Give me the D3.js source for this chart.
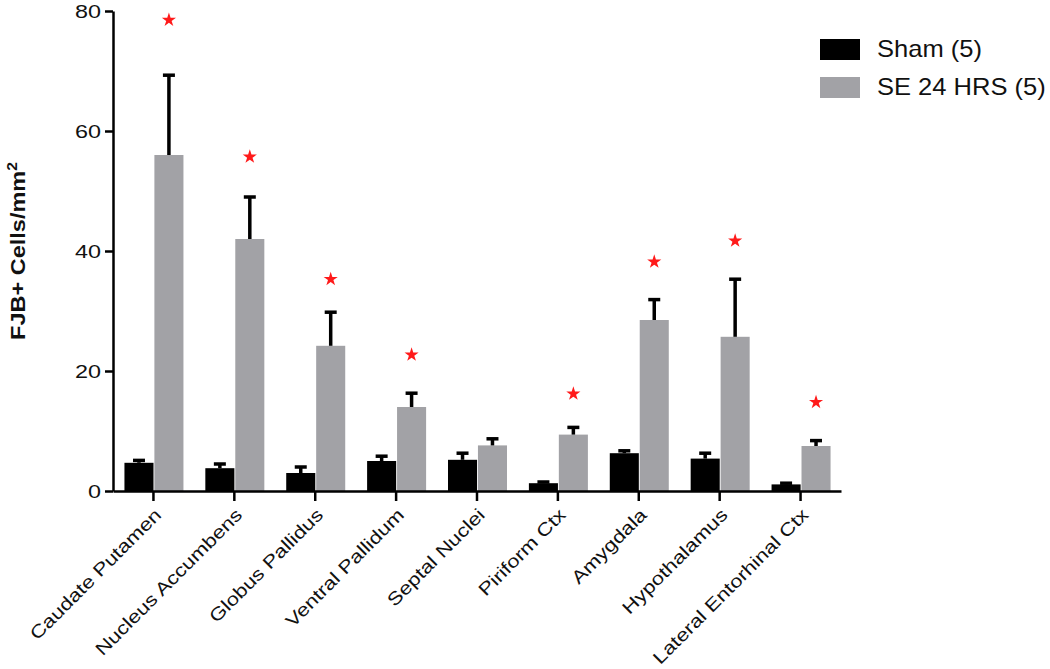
<!DOCTYPE html>
<html>
<head>
<meta charset="utf-8">
<script src="https://cdn.jsdelivr.net/npm/d3@7"></script>
<style>
  html, body { margin: 0; padding: 0; background: #fff; }
  svg { display: block; }
</style>
</head>
<body>
<svg id="chart" width="1050" height="669"></svg>
<script>
const categories = ["Caudate Putamen", "Nucleus Accumbens", "Globus Pallidus", "Ventral Pallidum",
  "Septal Nuclei", "Piriform Ctx", "Amygdala", "Hypothalamus", "Lateral Entorhinal Ctx"];
const seriesNames = ["Sham (5)", "SE 24 HRS (5)"];
const shamValues = [4.7, 3.8, 3.0, 5.0, 5.2, 1.3, 6.3, 5.4, 1.1];
const shamErrors = [0.4, 0.7, 1.0, 0.8, 1.1, 0.2, 0.4, 0.9, 0.2];
const seValues = [56.0, 42.0, 24.2, 14.0, 7.6, 9.4, 28.5, 25.7, 7.5];
const seErrors = [13.3, 7.0, 5.6, 2.3, 1.1, 1.2, 3.4, 9.6, 0.9];
const starValues = [78.5, 55.7, 35.3, 22.7, null, 16.2, 38.2, 41.7, 14.8];
const yTicks = [0, 20, 40, 60, 80];
const yLabel = "FJB+ Cells/mm";
const colors = ["#000000", "#a2a2a6"];

const FONT = "'Liberation Sans', Arial, Helvetica, sans-serif";
const svg = d3.select("#chart");

const y = d3.scaleLinear().domain([0, 80]).range([491, 11]);
const x0 = d3.scaleBand().domain(categories).range([113, 841]).padding(0);
const x1 = d3.scaleBand().domain(seriesNames).range([0, 59]).paddingInner(0.03);

const rows = categories.map((c, i) => ({
  cat: c,
  vals: [
    { s: seriesNames[0], v: shamValues[i], e: shamErrors[i] },
    { s: seriesNames[1], v: seValues[i], e: seErrors[i] }
  ],
  star: starValues[i]
}));

const groupX = c => x0(c) + x0.bandwidth() / 2 - 29;

// Bars
const g = svg.append("g");
const groups = g.selectAll("g.grp").data(rows).join("g")
  .attr("transform", d => `translate(${groupX(d.cat)},0)`);

groups.selectAll("rect").data(d => d.vals).join("rect")
  .attr("x", d => x1(d.s))
  .attr("width", x1.bandwidth())
  .attr("y", d => y(d.v))
  .attr("height", d => y(0) - y(d.v))
  .attr("fill", (d, i) => colors[i]);

// Error bars (upper only)
groups.selectAll("line.err").data(d => d.vals).join("line")
  .attr("class", "err")
  .attr("x1", d => x1(d.s) + x1.bandwidth() / 2)
  .attr("x2", d => x1(d.s) + x1.bandwidth() / 2)
  .attr("y1", d => y(d.v))
  .attr("y2", d => y(d.v + d.e))
  .attr("stroke", "#000").attr("stroke-width", 3.5);

groups.selectAll("line.cap").data(d => d.vals).join("line")
  .attr("class", "cap")
  .attr("x1", d => x1(d.s) + x1.bandwidth() / 2 - 6)
  .attr("x2", d => x1(d.s) + x1.bandwidth() / 2 + 6)
  .attr("y1", d => y(d.v + d.e))
  .attr("y2", d => y(d.v + d.e))
  .attr("stroke", "#000").attr("stroke-width", 3.5);

// Significance stars
groups.filter(d => d.star !== null).append("path")
  .attr("d", d3.symbol().type(d3.symbolStar).size(62))
  .attr("transform", d => `translate(${x1(seriesNames[1]) + x1.bandwidth() / 2},${y(d.star)})`)
  .attr("fill", "#ff1a1a");

// Y axis
const yAxis = svg.append("g")
  .attr("transform", "translate(113,0)")
  .call(d3.axisLeft(y).tickValues(yTicks).tickSize(8).tickSizeOuter(0).tickPadding(5));
yAxis.select(".domain").attr("stroke-width", 2.5).attr("stroke", "#000");
yAxis.selectAll(".tick line").attr("stroke-width", 2.5).attr("stroke", "#000");
yAxis.selectAll(".tick text")
  .attr("x", 0).attr("dy", "0.36em")
  .attr("transform", "translate(-12,0) scale(1.3,1)")
  .attr("font-family", FONT).attr("font-size", 18).attr("fill", "#111");

// X axis
const xAxis = svg.append("g")
  .attr("transform", `translate(0,${y(0)})`)
  .call(d3.axisBottom(x0).tickSize(10).tickSizeOuter(0));
xAxis.select(".domain").attr("stroke-width", 2.5).attr("stroke", "#000");
xAxis.selectAll(".tick line").attr("stroke-width", 2.5).attr("stroke", "#000");
xAxis.selectAll(".tick text")
  .attr("x", 0).attr("y", 0).attr("dy", 0)
  .attr("text-anchor", "end")
  .attr("transform", "translate(9,25) rotate(-45) scale(1.22,1)")
  .attr("font-family", FONT).attr("font-size", 18).attr("fill", "#111");

// Y label
const yl = svg.append("text")
  .attr("transform", `translate(25,${(y(0) + y(80)) / 2}) rotate(-90) scale(1.12,1)`)
  .attr("text-anchor", "middle")
  .attr("font-family", FONT).attr("font-size", 21).attr("font-weight", "bold").attr("fill", "#111");
yl.append("tspan").text(yLabel);
yl.append("tspan").attr("dy", "-0.55em").attr("font-size", 14).text("2");

// Legend
const legend = svg.append("g").attr("transform", "translate(820,39)");
const li = legend.selectAll("g").data(seriesNames).join("g")
  .attr("transform", (d, i) => `translate(0,${i * 38})`);
li.append("rect").attr("width", 40).attr("height", 21).attr("fill", (d, i) => colors[i]);
li.append("text")
  .attr("transform", "translate(57,18) scale(1.11,1)")
  .attr("font-family", FONT).attr("font-size", 23).attr("fill", "#111")
  .text(d => d);
</script>
</body>
</html>
